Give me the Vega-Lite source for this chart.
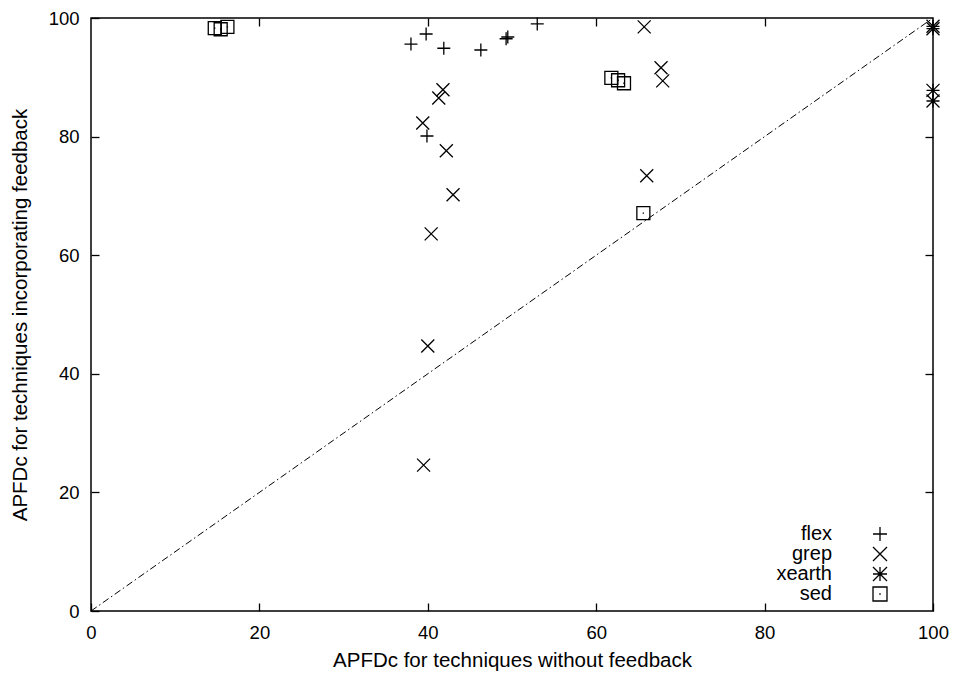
{
  "$schema": "https://vega.github.io/schema/vega-lite/v6.json",
  "autosize": "none",
  "width": 842,
  "height": 593,
  "padding": {"left": 91, "top": 18, "right": 20, "bottom": 63},
  "background": "white",
  "config": {
    "font": "Liberation Sans",
    "view": {"stroke": "black", "strokeWidth": 1.5},
    "axis": {
      "grid": false,
      "domain": false,
      "ticks": true,
      "tickColor": "black",
      "tickSize": -8,
      "tickWidth": 1.3,
      "labelFlush": false,
      "labelColor": "black",
      "labelFont": "Liberation Sans",
      "labelFontSize": 18.5,
      "titleColor": "black",
      "titleFont": "Liberation Sans",
      "titleFontSize": 20.5,
      "titleFontWeight": "normal"
    }
  },
  "resolve": {"axis": {"x": "independent", "y": "independent"}},
  "layer": [
    {
      "data": {"values": [{"u": 0, "v": 0}, {"u": 100, "v": 100}]},
      "mark": {"type": "line", "color": "black", "strokeWidth": 1, "strokeDash": [7, 3, 1.5, 3]},
      "encoding": {
        "x": {
          "field": "u", "type": "quantitative",
          "scale": {"domain": [0, 100], "nice": false, "zero": false},
          "axis": {"orient": "bottom", "values": [0, 20, 40, 60, 80, 100], "labelPadding": 20, "title": "APFDc for techniques without feedback", "titlePadding": 9}
        },
        "y": {
          "field": "v", "type": "quantitative",
          "scale": {"domain": [0, 100], "nice": false, "zero": false},
          "axis": {"orient": "left", "values": [0, 20, 40, 60, 80, 100], "labelPadding": 20, "title": "APFDc for techniques incorporating feedback", "titlePadding": 18}
        }
      }
    },
    {
      "data": {
        "values": [
          {"program": "flex", "without": 38.0, "with": 95.6},
          {"program": "flex", "without": 39.8, "with": 97.3},
          {"program": "flex", "without": 41.9, "with": 94.9},
          {"program": "flex", "without": 46.3, "with": 94.6},
          {"program": "flex", "without": 49.3, "with": 96.5},
          {"program": "flex", "without": 49.5, "with": 96.8},
          {"program": "flex", "without": 53.0, "with": 99.0},
          {"program": "flex", "without": 39.9, "with": 80.1},
          {"program": "grep", "without": 65.7, "with": 98.5},
          {"program": "grep", "without": 67.7, "with": 91.6},
          {"program": "grep", "without": 67.9, "with": 89.4},
          {"program": "grep", "without": 66.0, "with": 73.4},
          {"program": "grep", "without": 41.8, "with": 87.9},
          {"program": "grep", "without": 41.3, "with": 86.5},
          {"program": "grep", "without": 39.4, "with": 82.3},
          {"program": "grep", "without": 42.2, "with": 77.6},
          {"program": "grep", "without": 43.0, "with": 70.2},
          {"program": "grep", "without": 40.4, "with": 63.6},
          {"program": "grep", "without": 40.0, "with": 44.7},
          {"program": "grep", "without": 39.5, "with": 24.6},
          {"program": "xearth", "without": 100, "with": 98.6},
          {"program": "xearth", "without": 100, "with": 98.2},
          {"program": "xearth", "without": 100, "with": 87.8},
          {"program": "xearth", "without": 100, "with": 86.0},
          {"program": "sed", "without": 14.7, "with": 98.3},
          {"program": "sed", "without": 15.4, "with": 98.1},
          {"program": "sed", "without": 16.2, "with": 98.5},
          {"program": "sed", "without": 61.8, "with": 89.9},
          {"program": "sed", "without": 62.6, "with": 89.5},
          {"program": "sed", "without": 63.3, "with": 89.0},
          {"program": "sed", "without": 65.6, "with": 67.1}
        ]
      },
      "mark": {"type": "point", "filled": false, "color": "black", "strokeWidth": 1.3, "size": 169, "opacity": 1, "clip": false},
      "encoding": {
        "x": {
          "field": "without", "type": "quantitative",
          "scale": {"domain": [0, 100], "nice": false, "zero": false},
          "axis": {"orient": "top", "values": [20, 40, 60, 80], "labels": false, "title": null}
        },
        "y": {
          "field": "with", "type": "quantitative",
          "scale": {"domain": [0, 100], "nice": false, "zero": false},
          "axis": {"orient": "right", "values": [20, 40, 60, 80], "labels": false, "title": null}
        },
        "shape": {
          "field": "program", "type": "nominal",
          "scale": {
            "domain": ["flex", "grep", "xearth", "sed"],
            "range": [
              "M-1,0H1M0,-1V1",
              "M-1,-1L1,1M-1,1L1,-1",
              "M-1,0H1M0,-1V1M-1,-1L1,1M-1,1L1,-1",
              "M-1,-1H1V1H-1ZM-0.1,0H0.1"
            ]
          },
          "legend": {
            "title": null,
            "orient": "none",
            "legendX": 779,
            "legendY": 506,
            "padding": 0,
            "symbolSize": 196,
            "symbolStrokeColor": "black",
            "symbolFillColor": "transparent",
            "symbolStrokeWidth": 1.3,
            "labelAlign": "right",
            "labelOffset": -58,
            "labelFontSize": 20,
            "labelColor": "black",
            "labelFont": "Liberation Sans",
            "rowPadding": 0,
            "labelLimit": 200
          }
        }
      }
    }
  ]
}
